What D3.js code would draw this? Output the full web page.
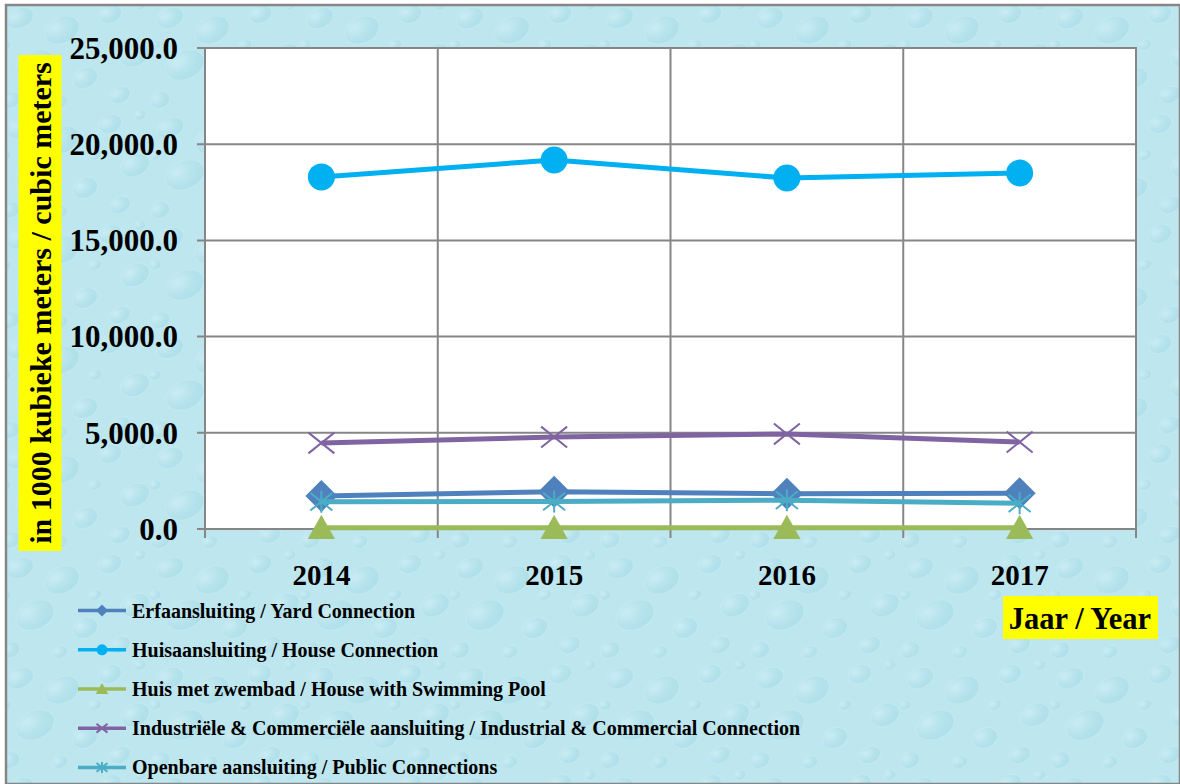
<!DOCTYPE html>
<html>
<head>
<meta charset="utf-8">
<script src="https://cdn.jsdelivr.net/npm/d3@7"></script>
<style>
  body { margin: 0; background: #fff; }
  svg text { font-family: "Liberation Serif", "Times New Roman", serif; font-weight: bold; fill: #000; }
</style>
</head>
<body>
<svg id="chart" width="1180" height="784"></svg>
<script>
'use strict';

// categories
var years = ['2014', '2015', '2016', '2017'];

// series values, in 1000 cubic meters
var yardValues = [1720, 1940, 1830, 1860];
var houseValues = [18300, 19180, 18240, 18500];
var poolValues = [60, 60, 60, 60];
var industrialValues = [4470, 4780, 4940, 4520];
var publicValues = [1420, 1430, 1500, 1340];

var seriesNames = [
    'Erfaansluiting / Yard Connection',
    'Huisaansluiting / House Connection',
    'Huis met zwembad / House with Swimming Pool',
    'Industriële & Commerciële aansluiting / Industrial & Commercial Connection',
    'Openbare aansluiting / Public Connections'
];
var seriesColors = ['#4f81bd', '#00b0f0', '#9bbb59', '#8064a2', '#4bacc6'];
var seriesMarkers = ['diamond', 'circle', 'triangle', 'cross', 'star'];

var yTicks = [0, 5000, 10000, 15000, 20000, 25000];

var series = [yardValues, houseValues, poolValues, industrialValues, publicValues].map(function (vals, i) {
    return {
        name: seriesNames[i],
        color: seriesColors[i],
        marker: seriesMarkers[i],
        values: vals.map(function (v, j) { return { year: years[j], value: v }; })
    };
});

var svg = d3.select('#chart');
var W = 1180, H = 784;
var plot = { left: 205, right: 1136, top: 48, bottom: 529 };

/* background: light water-drop texture */
var defs = svg.append('defs');
var drop = defs.append('radialGradient').attr('id', 'drop')
    .attr('cx', '35%').attr('cy', '30%').attr('r', '75%');
drop.append('stop').attr('offset', '0%').attr('stop-color', '#e3f6fa');
drop.append('stop').attr('offset', '55%').attr('stop-color', '#a8dbe6');
drop.append('stop').attr('offset', '100%').attr('stop-color', '#92d0de');

var pat = defs.append('pattern').attr('id', 'water')
    .attr('patternUnits', 'userSpaceOnUse')
    .attr('width', 150).attr('height', 110);
pat.append('rect').attr('width', 150).attr('height', 110).attr('fill', '#bde6ef');
// fixed drop layout for the tile (decoration only)
var drops = [
    [20, 18, 14, 10], [62, 30, 18, 13], [110, 14, 12, 9], [135, 55, 15, 11],
    [35, 65, 20, 14], [85, 78, 13, 10], [120, 95, 11, 8], [10, 100, 10, 8],
    [60, 102, 8, 6], [95, 45, 7, 5], [5, 45, 6, 5], [140, 5, 6, 5]
];
pat.selectAll('ellipse').data(drops).enter().append('ellipse')
    .attr('cx', function (d) { return d[0]; })
    .attr('cy', function (d) { return d[1]; })
    .attr('rx', function (d) { return d[2]; })
    .attr('ry', function (d) { return d[3]; })
    .attr('transform', function (d) { return 'rotate(-25,' + d[0] + ',' + d[1] + ')'; })
    .attr('fill', 'url(#drop)')
    .attr('opacity', 0.35)
    .attr('stroke', '#e9f9fc')
    .attr('stroke-opacity', 0.5)
    .attr('stroke-width', 1);

svg.append('rect')
    .attr('x', 6).attr('y', 5)
    .attr('width', W - 6).attr('height', H - 5)
    .attr('fill', 'url(#water)')
    .attr('stroke', '#868686')
    .attr('stroke-width', 2.5);

/* scales */
var x = d3.scaleBand().domain(years).range([plot.left, plot.right]).padding(0);
var y = d3.scaleLinear().domain([0, 25000]).range([plot.bottom, plot.top]);
var cx = function (yr) { return x(yr) + x.bandwidth() / 2; };

/* plot area */
svg.append('rect')
    .attr('x', plot.left).attr('y', plot.top)
    .attr('width', plot.right - plot.left).attr('height', plot.bottom - plot.top)
    .attr('fill', '#fff');

var grid = svg.append('g').attr('stroke', '#868686').attr('stroke-width', 2);
grid.selectAll('line.h').data(yTicks).enter().append('line')
    .attr('class', 'h')
    .attr('x1', plot.left - 8).attr('x2', plot.right)
    .attr('y1', function (d) { return y(d); })
    .attr('y2', function (d) { return y(d); });
// vertical grid at band edges, extending below the axis as tick marks
var edges = years.map(function (yr) { return x(yr); }).concat([plot.right]);
grid.selectAll('line.v').data(edges).enter().append('line')
    .attr('class', 'v')
    .attr('x1', function (d) { return d; }).attr('x2', function (d) { return d; })
    .attr('y1', plot.top).attr('y2', plot.bottom + 9);
svg.append('rect')
    .attr('x', plot.left).attr('y', plot.top)
    .attr('width', plot.right - plot.left).attr('height', plot.bottom - plot.top)
    .attr('fill', 'none').attr('stroke', '#868686').attr('stroke-width', 2);

/* axis labels */
var fmt = d3.format(',.1f');
svg.append('g').selectAll('text').data(yTicks).enter().append('text')
    .attr('x', plot.left - 27)
    .attr('y', function (d) { return y(d); })
    .attr('dy', '0.35em')
    .attr('text-anchor', 'end')
    .style('font-size', '31px')
    .text(function (d) { return fmt(d); });

svg.append('g').selectAll('text').data(years).enter().append('text')
    .attr('x', function (d) { return cx(d); })
    .attr('y', 575)
    .attr('dy', '0.35em')
    .attr('text-anchor', 'middle')
    .style('font-size', '29px')
    .text(function (d) { return d; });

/* axis titles on yellow boxes */
var yTitle = svg.append('g').attr('transform', 'translate(40,303) rotate(-90)');
yTitle.append('rect')
    .attr('x', -248).attr('y', -21.5)
    .attr('width', 496).attr('height', 43)
    .attr('fill', '#ffff00');
yTitle.append('text')
    .attr('text-anchor', 'middle').attr('dy', '0.35em')
    .style('font-size', '30px')
    .text('in 1000 kubieke meters / cubic meters');

var xTitle = svg.append('g').attr('transform', 'translate(1080,618)');
xTitle.append('rect')
    .attr('x', -77).attr('y', -22).attr('width', 155).attr('height', 43)
    .attr('fill', '#ffff00');
xTitle.append('text')
    .attr('text-anchor', 'middle').attr('dy', '0.35em')
    .style('font-size', '30.5px')
    .text('Jaar / Year');

/* marker shapes */
function markerPath(type, s) {
    switch (type) {
    case 'diamond':
        return 'M0,' + (-s) + 'L' + s + ',0L0,' + s + 'L' + (-s) + ',0Z';
    case 'triangle':
        return 'M0,' + (-s) + 'L' + (s * 1.05) + ',' + (s * 0.85) + 'L' + (-s * 1.05) + ',' + (s * 0.85) + 'Z';
    case 'cross':
        return 'M' + (-s) + ',' + (-s * 0.8) + 'L' + s + ',' + (s * 0.8) +
            'M' + (-s) + ',' + (s * 0.8) + 'L' + s + ',' + (-s * 0.8);
    case 'star':
        return 'M' + (-s) + ',' + (-s * 0.8) + 'L' + s + ',' + (s * 0.8) +
            'M' + (-s) + ',' + (s * 0.8) + 'L' + s + ',' + (-s * 0.8) +
            'M0,' + (-s) + 'L0,' + s;
    }
    return '';
}
var markerSize = { diamond: 16, circle: 13.5, triangle: 13, cross: 13, star: 11 };

function drawMarker(g, type, color, s) {
    if (type === 'circle') {
        g.append('circle').attr('r', s).attr('fill', color);
    } else if (type === 'cross' || type === 'star') {
        g.append('path').attr('d', markerPath(type, s))
            .attr('fill', 'none').attr('stroke', color).attr('stroke-width', 2);
    } else {
        g.append('path').attr('d', markerPath(type, s)).attr('fill', color);
    }
}

/* lines and markers */
var line = d3.line()
    .x(function (d) { return cx(d.year); })
    .y(function (d) { return y(d.value); });

series.forEach(function (s) {
    var g = svg.append('g');
    g.append('path')
        .datum(s.values)
        .attr('d', line)
        .attr('fill', 'none')
        .attr('stroke', s.color)
        .attr('stroke-width', 5)
        .attr('stroke-linejoin', 'round');
    s.values.forEach(function (d) {
        var m = g.append('g').attr('transform', 'translate(' + cx(d.year) + ',' + y(d.value) + ')');
        drawMarker(m, s.marker, s.color, markerSize[s.marker]);
    });
});

/* legend */
var legendRow = d3.scaleBand().domain(seriesNames).range([591, 787]);
var legend = svg.append('g').selectAll('g').data(series).enter().append('g')
    .attr('transform', function (d) {
        return 'translate(0,' + (legendRow(d.name) + legendRow.bandwidth() / 2) + ')';
    });
legend.append('line')
    .attr('x1', 78).attr('x2', 126)
    .attr('stroke', function (d) { return d.color; })
    .attr('stroke-width', 3.5);
legend.each(function (d) {
    var m = d3.select(this).append('g').attr('transform', 'translate(102,0)');
    var small = { diamond: 6, circle: 5.5, triangle: 6, cross: 5.5, star: 5.5 };
    drawMarker(m, d.marker, d.color, small[d.marker]);
});
legend.append('text')
    .attr('x', 132)
    .attr('dy', '0.35em')
    .style('font-size', '20px')
    .text(function (d) { return d.name; });
</script>
</body>
</html>
